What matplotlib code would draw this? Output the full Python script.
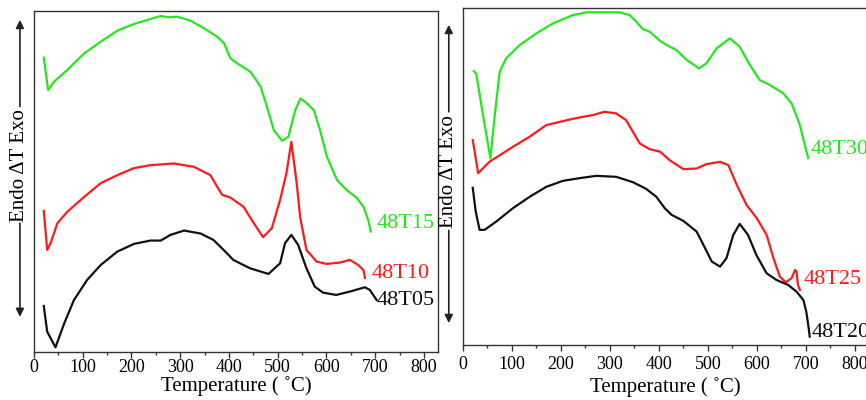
import matplotlib
matplotlib.use("Agg")
import matplotlib.pyplot as plt
from matplotlib.ticker import MultipleLocator

plt.rcParams["font.family"] = ["Liberation Serif", "DejaVu Serif"]

# ---- left panel: 48T05 / 48T10 / 48T15 ----
t15 = [20, 29, 41, 68, 103, 137, 171, 205, 239, 260, 277, 294, 321, 349, 376, 390, 403,
       417, 444, 465, 478, 492, 509, 522, 536, 547, 560, 574, 587, 601, 622, 642, 663,
       676, 686, 691]
v15 = [8.87, 7.90, 8.15, 8.50, 9.00, 9.35, 9.68, 9.88, 10.03, 10.12, 10.08, 10.10, 9.98,
       9.75, 9.50, 9.30, 8.85, 8.70, 8.45, 8.00, 7.40, 6.70, 6.38, 6.50, 7.30, 7.65, 7.50,
       7.30, 6.70, 5.90, 5.20, 4.90, 4.66, 4.40, 4.00, 3.66]

t10 = [20, 27, 34, 48, 68, 103, 137, 171, 205, 239, 287, 328, 362, 376, 386, 403, 430,
       451, 470, 488, 505, 518, 528, 539, 546, 559, 580, 600, 628, 648, 665, 676, 679]
v10 = [4.28, 3.11, 3.31, 3.91, 4.25, 4.70, 5.11, 5.35, 5.56, 5.65, 5.70, 5.60, 5.35, 5.00,
       4.76, 4.68, 4.40, 3.91, 3.49, 3.76, 4.61, 5.41, 6.35, 5.11, 4.10, 3.11, 2.76, 2.69,
       2.73, 2.81, 2.66, 2.51, 2.27]

t05 = [20, 27, 44, 62, 82, 109, 137, 171, 205, 239, 260, 280, 308, 342, 368, 389, 409,
       443, 481, 505, 515, 528, 542, 559, 576, 593, 620, 648, 679, 689, 703]
v05 = [1.43, 0.66, 0.19, 0.91, 1.61, 2.21, 2.66, 3.06, 3.29, 3.39, 3.39, 3.56, 3.69, 3.60,
       3.41, 3.11, 2.81, 2.56, 2.39, 2.71, 3.31, 3.56, 3.26, 2.56, 2.01, 1.83, 1.76, 1.86,
       1.99, 1.91, 1.61]

# ---- right panel: 48T20 / 48T25 / 48T30 ----
t30 = [22, 27, 41, 56, 65, 75, 88, 116, 150, 184, 225, 252, 320, 340, 354, 367, 381,
       402, 416, 436, 457, 482, 497, 518, 545, 565, 586, 606, 627, 654, 671, 688, 698, 705]
v30 = [8.26, 8.19, 6.94, 5.65, 6.94, 8.24, 8.64, 9.04, 9.39, 9.69, 9.94, 10.02, 10.02,
       9.94, 9.74, 9.52, 9.44, 9.17, 9.04, 8.89, 8.59, 8.34, 8.49, 8.94, 9.24, 8.99, 8.44,
       7.99, 7.84, 7.59, 7.29, 6.64, 6.04, 5.65]

t25 = [20, 24, 31, 54, 102, 136, 170, 204, 238, 265, 289, 313, 333, 347, 361, 381, 403,
       422, 450, 477, 497, 525, 542, 559, 579, 600, 620, 634, 647, 659, 671, 678, 681, 684,
       688]
v25 = [6.19, 5.84, 5.20, 5.54, 5.99, 6.29, 6.64, 6.76, 6.87, 6.94, 7.04, 6.99, 6.79, 6.44,
       6.09, 5.92, 5.84, 5.59, 5.32, 5.34, 5.47, 5.54, 5.44, 4.85, 4.25, 3.85, 3.35, 2.65,
       2.10, 1.93, 2.05, 2.30, 2.25, 1.85, 1.70]

t20 = [20, 26, 34, 44, 68, 102, 136, 170, 204, 238, 272, 313, 347, 374, 395, 412, 426,
       450, 477, 491, 508, 525, 538, 552, 565, 582, 599, 620, 640, 664, 681, 695, 701, 706,
       708]
v20 = [4.76, 4.05, 3.50, 3.50, 3.75, 4.15, 4.49, 4.79, 4.97, 5.05, 5.12, 5.09, 4.93, 4.73,
       4.49, 4.15, 3.95, 3.77, 3.45, 3.05, 2.55, 2.40, 2.65, 3.35, 3.68, 3.35, 2.75, 2.20,
       2.00, 1.85, 1.65, 1.40, 1.05, 0.55, 0.30]

GREEN = "#22e81c"
RED = "#ff1a1a"
BLACK = "#111111"

fig = plt.figure(figsize=(8.66, 4.0), dpi=100)
ax1 = fig.add_axes([0.0393, 0.12, 0.4665, 0.8525])
ax2 = fig.add_axes([0.5346, 0.1375, 0.4677, 0.8425])


def style_axis(ax, xmax, ylim, tickpad, labelpad):
    ax.set_xlim(0, xmax)
    ax.set_ylim(*ylim)
    ax.set_yticks([])
    ax.xaxis.set_major_locator(MultipleLocator(100))
    ax.xaxis.set_minor_locator(MultipleLocator(50))
    ax.tick_params(axis="x", which="major", length=4, width=1, labelsize=13, pad=tickpad,
                   color="#333333")
    ax.tick_params(axis="x", which="minor", length=2.5, width=1, color="#333333")
    for s in ax.spines.values():
        s.set_color("#333333")
        s.set_linewidth(1)
    ax.set_xlabel("Temperature ( ˚C)", fontsize=15, labelpad=labelpad)


def ylabel_arrows(ax, x, up_tip, up_start, down_start, down_tip, mid):
    arrow = dict(arrowstyle="-|>", color="#222222", lw=1.2, mutation_scale=12,
                 shrinkA=0, shrinkB=0)
    ax.annotate("", xy=(x, up_tip), xytext=(x, up_start), xycoords="axes fraction",
                textcoords="axes fraction", arrowprops=arrow, annotation_clip=False)
    ax.annotate("", xy=(x, down_tip), xytext=(x, down_start), xycoords="axes fraction",
                textcoords="axes fraction", arrowprops=arrow, annotation_clip=False)
    ax.text(x, mid, "Endo ΔT Exo", rotation=90, ha="center", va="center", fontsize=15,
            transform=ax.transAxes, clip_on=False)


# left
ax1.plot(t15, v15, color=GREEN, lw=1.6)
ax1.plot(t10, v10, color=RED, lw=1.6)
ax1.plot(t05, v05, color=BLACK, lw=1.6)
style_axis(ax1, 829, (0.05, 10.27), 1, 0)
ax1.text(704, 3.9, "48T15", color=GREEN, fontsize=16, va="center")
ax1.text(693, 2.4, "48T10", color=RED, fontsize=16, va="center")
ax1.text(704, 1.6, "48T05", color=BLACK, fontsize=16, va="center")
ylabel_arrows(ax1, -0.035, 0.974, 0.72, 0.378, 0.103, 0.548)

# right
ax2.plot(t30, v30, color=GREEN, lw=1.6)
ax2.plot(t25, v25, color=RED, lw=1.6)
ax2.plot(t20, v20, color=BLACK, lw=1.6)
style_axis(ax2, 827, (0.05, 10.15), 4, 3)
ax2.text(710, 5.9, "48T30", color=GREEN, fontsize=16, va="center")
ax2.text(696, 2.0, "48T25", color=RED, fontsize=16, va="center")
ax2.text(712, 0.42, "48T20", color=BLACK, fontsize=16, va="center")
ylabel_arrows(ax2, -0.035, 0.95, 0.692, 0.34, 0.065, 0.516)

fig.savefig("out.png", dpi=100)
